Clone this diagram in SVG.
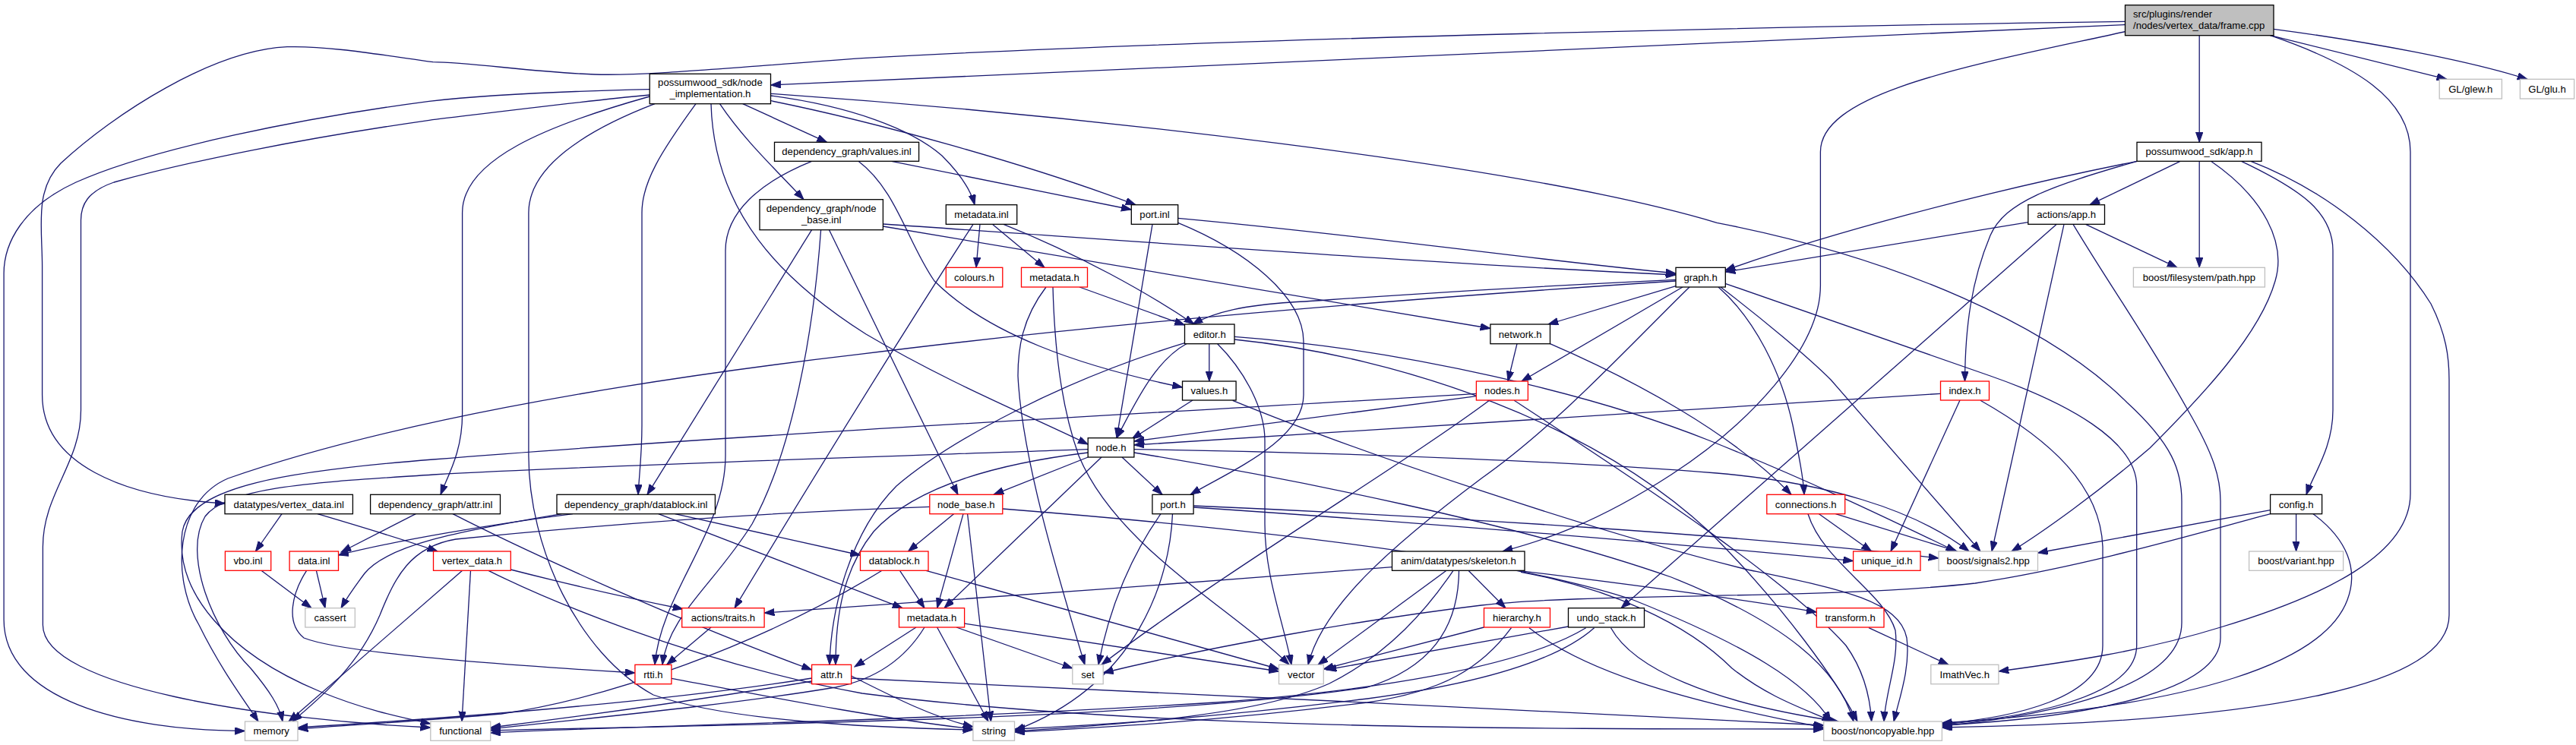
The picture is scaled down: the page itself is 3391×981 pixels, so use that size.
<svg xmlns="http://www.w3.org/2000/svg" width="3391" height="981" viewBox="0 0 3391 981">
<style>
.e{fill:none;stroke:#191970;stroke-width:1.3;marker-end:url(#a)}
.n rect{fill:#ffffff;stroke:#000000;stroke-width:1.3}
.r rect{fill:#ffffff;stroke:#ff0000;stroke-width:1.3}
.g rect{fill:#ffffff;stroke:#bfbfbf;stroke-width:1.3}
.m rect{fill:#bfbfbf;stroke:#000000;stroke-width:1.3}
text{font-family:"Liberation Sans",Arial,Helvetica,sans-serif;font-size:13.1px;fill:#000000;text-anchor:middle}
</style>
<defs>
<marker id="a" markerUnits="userSpaceOnUse" markerWidth="14" markerHeight="10" refX="13.3" refY="4.7" orient="auto">
<path d="M0,0 L13.3,4.7 L0,9.4 Z" fill="#191970" stroke="#191970" stroke-width="1"/>
</marker>
</defs>
<rect x="0" y="0" width="3391" height="981" fill="#ffffff"/>
<g id="edges">
<path class="e" d="M2797.5,32.5 L1014.5,112"/>
<path class="e" d="M2797.5,28.3 C2450,33 1600,50 1135,76.7 C950,90 850,100 783,98 C700,95 620,82 570,81.7 C500,72 430,60 378,61.7 C280,66 150,150 80,215 C45,250 55.6,300 55.6,350 L55.6,520 C55.6,610 160,655 296,663"/>
<path class="e" d="M2895.2,46.7 L2895.2,187.3"/>
<path class="e" d="M2988.6,46.7 L3221,104.3"/>
<path class="e" d="M2993,38.3 C3120,55 3250,80 3327,104.3"/>
<path class="e" d="M2988.6,46.7 C3100,85 3173,130 3173,200 L3173,650 C3173,730 3060,785 2923,826 C2820,858 2720,872 2630.9,884"/>
<path class="e" d="M2797.5,41.7 C2600,85 2396.4,120 2396.4,200 L2396.4,376 C2396.4,460 2300,560 2200,625 C2100,690 2030,712 1978,726"/>
<path class="e" d="M855.2,117.7 C700,121 620,127 565,133.3 C400,155 200,195 100,240 C30,272 5.1,320 5.1,360 L5.1,816 C5.1,920 160,962 322.5,962.5"/>
<path class="e" d="M855.2,125 C750,135 650,148 565,158.3 C400,182 250,212 150,240 C115,252 106.5,270 106.5,290 L106.5,540 C106.5,610 56.4,650 56.4,720 L56.4,823 C56.4,905 350,948 566.8,958"/>
<path class="e" d="M855.2,127 C720,165 608.6,210 608.6,280 L608.6,545 C608.6,595 590,625 580,651.3"/>
<path class="e" d="M862,136.7 C770,172 695.9,220 695.9,280 L695.9,600 C695.9,720 760,860 860,915 C960,950 1150,958 1280.9,961"/>
<path class="e" d="M916,136.7 C870,200 845,240 845,280 L845,560 C845,600 841,630 840,651.3"/>
<path class="e" d="M936,136.7 C940,280 1030,370 1140,440 C1250,505 1350,545 1432.2,585"/>
<path class="e" d="M947.5,136.7 C980,185 1020,222 1058,262.7"/>
<path class="e" d="M977.7,136.7 L1088.6,187.3"/>
<path class="e" d="M1014.5,123.3 C1400,150 2000,215 2260,293.3 C2500,340 2700,430 2800,530 C2860,585 2872,620 2872,660 L2872,820 C2872,905 2700,942 2556.4,956"/>
<path class="e" d="M1014.5,126 C1120,140 1200,170 1240,205 C1265,230 1278,250 1283,269.7"/>
<path class="e" d="M1014.5,132.7 C1150,160 1350,215 1495,269.7"/>
<path class="e" d="M1173.6,212.3 L1489.3,276"/>
<path class="e" d="M1130,212.3 C1180,250 1195,320 1230,370 C1300,440 1420,482 1556.5,510"/>
<path class="e" d="M1068.6,212.3 C1000,240 955,280 955,330 L955,600 C955,700 870,780 862,875.3"/>
<path class="e" d="M1080.6,302.7 C1070,450 1040,600 990,690 C940,770 880,810 872,875.3"/>
<path class="e" d="M1068.6,302.7 L852,651.3"/>
<path class="e" d="M1091.5,302.7 L1261,651.3"/>
<path class="e" d="M1162.4,295 C1500,318 1900,348 2206,362"/>
<path class="e" d="M1162.4,298 L1962,432.5"/>
<path class="e" d="M1290,295.3 L1285,352.3"/>
<path class="e" d="M1306.4,295.3 L1375,352.3"/>
<path class="e" d="M1321,295.3 C1420,335 1510,385 1572,427"/>
<path class="e" d="M1281,295.3 C1220,390 1100,580 967,800.7"/>
<path class="e" d="M2206,370 C1900,390 1500,420 1130,466.7 C800,505 500,560 300,630 C230,660 225,760 262,823 C290,880 320,920 340,950"/>
<path class="e" d="M2206,368.3 C1950,380 1750,395 1700,398 C1640,402 1600,410 1570,427"/>
<path class="e" d="M2206,376.7 L2038,427"/>
<path class="e" d="M2215,378 L2003,502"/>
<path class="e" d="M2224,378 C2150,450 2050,560 1950,630 C1830,720 1740,800 1722,875.3"/>
<path class="e" d="M2262,378 C2310,420 2345,490 2360,560 C2368,600 2374,630 2375,651.3"/>
<path class="e" d="M2265,378 C2320,420 2380,470 2410,500 L2607,726"/>
<path class="e" d="M2271,373.3 L2620,495 C2720,530 2812.7,580 2812.7,640 L2812.7,850 C2812.7,922 2650,946 2556.4,954"/>
<path class="e" d="M2895.2,212.3 L2895.2,352.3"/>
<path class="e" d="M2870,212.3 L2751,269.7"/>
<path class="e" d="M2813,212.3 C2600,255 2400,310 2271,356"/>
<path class="e" d="M2813,212.3 C2700,245 2640,265 2620,310 C2595,370 2587,430 2586.5,502"/>
<path class="e" d="M2910.5,212.3 C2980,260 3010,320 2995,370 C2975,440 2900,520 2830,590 C2760,650 2690,700 2648,726"/>
<path class="e" d="M2950.5,212.3 C3030,250 3071,280 3071,330 L3071,540 C3071,590 3045,625 3036,651.3"/>
<path class="e" d="M2963,212.3 C3060,250 3150,320 3200,400 C3220,440 3224,470 3224,500 L3224,810 C3224,900 3000,950 2556.4,958"/>
<path class="e" d="M2669.8,292.7 L2271,358"/>
<path class="e" d="M2745.5,295.3 L2866,352.3"/>
<path class="e" d="M2707.3,295.3 L2134,800.7"/>
<path class="e" d="M2717,295.3 L2622,726"/>
<path class="e" d="M2729,295.3 C2780,380 2830,450 2880,540 C2915,600 2923,630 2923,660 L2923,840 C2923,910 2750,945 2556.4,955"/>
<path class="e" d="M3022.6,676.7 L3022.6,726"/>
<path class="e" d="M2988.6,671.7 L2682.5,728"/>
<path class="e" d="M2988.6,676.7 C2900,700 2750,745 2600,768 C2400,790 2100,780 1950,797 C1800,815 1600,850 1452.2,886"/>
<path class="e" d="M3045,676.7 C3090,710 3105,750 3090,790 C3060,870 2900,930 2556.4,952"/>
<path class="e" d="M2554.5,518.3 L1492.9,586"/>
<path class="e" d="M2580,527 L2489,726"/>
<path class="e" d="M2607,527.3 C2700,580 2765,640 2768,720 L2768,850 C2768,920 2650,945 2556.4,953"/>
<path class="e" d="M1943.4,521.7 L1492.9,581"/>
<path class="e" d="M1943.4,518.3 C1600,540 1000,570 570,605 C380,620 250,640 240,700 C230,780 300,860 420,910 C480,935 530,945 566.8,953"/>
<path class="e" d="M1960.5,527.3 C1850,610 1600,760 1450,875.3"/>
<path class="e" d="M1993.2,527.3 C2150,630 2350,760 2430,850 C2455,885 2462,920 2463.6,950"/>
<path class="e" d="M1570,527 L1490,578"/>
<path class="e" d="M1622.7,527.3 C1800,600 2100,700 2300,750 C2420,775 2500,790 2510,840 C2515,880 2500,920 2493,950"/>
<path class="e" d="M1432.2,602 L1308,651.3"/>
<path class="e" d="M1477,602 L1530,651.3"/>
<path class="e" d="M1450,602 L1243,800.7"/>
<path class="e" d="M1432.2,591.7 C1200,600 800,612 570,625 C420,635 300,640 270,680 C240,730 280,830 330,880 C355,910 368,930 372,950"/>
<path class="e" d="M1432.2,596 C1300,612 1200,645 1150,700 C1110,750 1100,810 1100,875.3"/>
<path class="e" d="M1492.9,591.7 C1800,596 2100,610 2260,623 C2400,635 2520,670 2592,726"/>
<path class="e" d="M1492.9,596 C1700,630 2000,690 2200,760 C2350,820 2420,880 2440,950"/>
<path class="e" d="M1255.5,676.7 L1195.5,726"/>
<path class="e" d="M1268,676.7 L1233.6,800.7"/>
<path class="e" d="M1273.6,676.7 L1304.5,950"/>
<path class="e" d="M1223.8,667.3 C1000,675 800,690 600,710 C540,720 520,760 500,810 C470,880 420,920 385,950"/>
<path class="e" d="M1319.8,670 C1700,700 2000,740 2150,790 C2300,850 2380,900 2410,950"/>
<path class="e" d="M1528,676.7 C1490,730 1460,800 1446,875.3"/>
<path class="e" d="M1543.5,676.7 C1540,760 1500,900 1335.5,962"/>
<path class="e" d="M1571.1,666 C1900,680 2300,705 2552,735"/>
<path class="e" d="M1571.1,668 C1900,690 2250,720 2439.6,738.6"/>
<path class="e" d="M1184.5,751.3 L1217,800.7"/>
<path class="e" d="M1219,751.3 L1683.5,881"/>
<path class="e" d="M1161,751.3 C1000,850 800,920 660,940 C550,950 450,955 392,960"/>
<path class="e" d="M608.6,751.3 L380,950"/>
<path class="e" d="M619.5,751.3 L608,950"/>
<path class="e" d="M672.3,750 C750,770 840,790 899,802"/>
<path class="e" d="M643,751.3 C700,780 900,870 1135,913 C1500,960 2000,960 2400.7,960"/>
<path class="e" d="M371,676.7 L336.4,726"/>
<path class="e" d="M418,676.7 C480,695 530,710 576,726"/>
<path class="e" d="M547.3,676.7 L449,727"/>
<path class="e" d="M596,676.7 C700,730 900,820 1068.6,882"/>
<path class="e" d="M754,676.7 C650,690 520,712 445.5,731"/>
<path class="e" d="M739.5,676.7 C600,700 510,718 480,755 C465,775 455,790 449,800.7"/>
<path class="e" d="M866.8,676.7 L1188,800.7"/>
<path class="e" d="M888.6,676.7 L1132.5,731"/>
<path class="e" d="M344,751.3 L410,800.7"/>
<path class="e" d="M416.4,751.3 L428,800.7"/>
<path class="e" d="M403.6,751.3 C385,780 375,820 400,840 C450,860 650,875 835.9,886"/>
<path class="e" d="M936,826 L877.7,875.3"/>
<path class="e" d="M883.9,893.3 C1000,915 1150,945 1280.9,960"/>
<path class="e" d="M1068.6,893 C900,920 650,942 392,958"/>
<path class="e" d="M1068.6,897 C900,925 750,945 645.7,958"/>
<path class="e" d="M1120.6,890 C1180,920 1230,945 1280.9,957"/>
<path class="e" d="M1120.6,893 C1500,910 2000,935 2400.7,955"/>
<path class="e" d="M1206,826 L1125,878"/>
<path class="e" d="M1259,826 L1411.8,880"/>
<path class="e" d="M1269.6,821 L1683.5,884"/>
<path class="e" d="M1233.6,826 L1301,950"/>
<path class="e" d="M1217,826 C1190,870 1150,895 1100,905 C950,930 750,948 645.7,960"/>
<path class="e" d="M1832.5,746.7 C1600,765 1200,795 1006.1,807"/>
<path class="e" d="M1904,751.3 L1735,875.3"/>
<path class="e" d="M1913,751.3 C1880,800 1830,860 1750,900 C1650,945 1450,955 1335.5,963"/>
<path class="e" d="M1920.5,751.3 C1920,830 1880,880 1800,905 C1500,950 900,955 645.7,962"/>
<path class="e" d="M1933,751.3 L1982,800.7"/>
<path class="e" d="M1998.6,751.3 C2150,770 2300,790 2391.3,806"/>
<path class="e" d="M2002,753.3 C2120,775 2220,820 2280,880 C2330,920 2380,935 2412,950"/>
<path class="e" d="M1953.5,826 L1742.3,881"/>
<path class="e" d="M1989.5,826.7 C1950,880 1900,910 1800,925 C1600,950 1450,958 1335.5,964"/>
<path class="e" d="M2013,826.7 C2080,880 2200,920 2400.7,958"/>
<path class="e" d="M2064.5,825 L1746,882"/>
<path class="e" d="M2098.6,826.7 C2050,870 1950,900 1800,920 C1600,945 1450,955 1335.5,960"/>
<path class="e" d="M2087.7,826.7 C2000,880 1800,910 1600,925 C1200,950 850,955 645.7,965"/>
<path class="e" d="M2120.5,826.7 C2150,880 2250,925 2420,950"/>
<path class="e" d="M2394.5,676.7 L2463.6,726"/>
<path class="e" d="M2416.4,676.7 L2576.4,726"/>
<path class="e" d="M2380,676.7 C2400,740 2480,780 2495,830 C2500,870 2482,910 2480,950"/>
<path class="e" d="M1997,452.7 L1985,502"/>
<path class="e" d="M2040.5,452.7 C2150,500 2280,570 2358,651.3"/>
<path class="e" d="M1591.8,452.7 L1591.8,502"/>
<path class="e" d="M1563,452 C1520,475 1495,530 1470,576.7"/>
<path class="e" d="M1559.5,451.7 C1400,500 1250,580 1180,640 C1120,700 1094,800 1092,875.3"/>
<path class="e" d="M1602.7,452.7 C1640,490 1665,540 1665,580 L1665,690 C1665,760 1690,820 1700,875.3"/>
<path class="e" d="M1625,443.3 C1850,460 2100,520 2250,580 C2400,640 2520,700 2575,726"/>
<path class="e" d="M1625,447 C1850,470 2100,560 2250,700 C2350,800 2420,900 2445,950"/>
<path class="e" d="M1421,378 L1559.5,428"/>
<path class="e" d="M1377,378 C1345,420 1340,460 1340,495 C1345,600 1390,750 1428,875.3"/>
<path class="e" d="M1386,378 C1388,450 1395,530 1420,600 C1470,720 1620,800 1697,875.3"/>
<path class="e" d="M2460,826.7 L2565,875.3"/>
<path class="e" d="M1550.7,287.3 C1800,310 2000,340 2206,360"/>
<path class="e" d="M1517,295.3 L1470,576.7"/>
<path class="e" d="M1550.7,293.3 C1640,330 1716,390 1716,450 L1716,520 C1716,580 1620,620 1567,651.3"/>
</g>
<g id="n_main" class="m"><rect x="2797.5" y="6.7" width="195.5" height="40"/><text x="2808" y="23" style="text-anchor:start">src/plugins/render</text><text x="2808" y="37.8" style="text-anchor:start">/nodes/vertex_data/frame.cpp</text></g>
<g id="n_node_impl" class="n"><rect x="855.2" y="97.3" width="159.3" height="39.4"/><text x="934.9" y="113.2">possumwood_sdk/node</text><text x="934.9" y="128.2">_implementation.h</text></g>
<g id="n_glew" class="g"><rect x="3211.2" y="104.3" width="82.2" height="25.7"/><text x="3252.3" y="121.8">GL/glew.h</text></g>
<g id="n_glu" class="g"><rect x="3317.4" y="104.3" width="71.2" height="25.7"/><text x="3353" y="121.8">GL/glu.h</text></g>
<g id="n_values_inl" class="n"><rect x="1019.5" y="187.3" width="190.1" height="25"/><text x="1114.5" y="204.4">dependency_graph/values.inl</text></g>
<g id="n_app_h" class="n"><rect x="2813" y="187.3" width="164" height="25"/><text x="2895" y="204.4">possumwood_sdk/app.h</text></g>
<g id="n_node_base_inl" class="n"><rect x="1000" y="262.7" width="162.4" height="40"/><text x="1081.2" y="279">dependency_graph/node</text><text x="1081.2" y="293.6">_base.inl</text></g>
<g id="n_metadata_inl" class="n"><rect x="1245.3" y="269.7" width="93.4" height="25.6"/><text x="1292" y="287.1">metadata.inl</text></g>
<g id="n_port_inl" class="n"><rect x="1489.3" y="269.7" width="61.4" height="25.6"/><text x="1520" y="287.1">port.inl</text></g>
<g id="n_actions_app" class="n"><rect x="2669.8" y="269.7" width="100.7" height="25.6"/><text x="2720.1" y="287.1">actions/app.h</text></g>
<g id="n_colours" class="r"><rect x="1245.3" y="352.3" width="74.5" height="25.7"/><text x="1282.5" y="369.8">colours.h</text></g>
<g id="n_metadata_h1" class="r"><rect x="1344.5" y="352.3" width="87" height="25.7"/><text x="1388" y="369.8">metadata.h</text></g>
<g id="n_graph_h" class="n"><rect x="2206" y="352.3" width="65.3" height="25.7"/><text x="2238.6" y="369.8">graph.h</text></g>
<g id="n_path_hpp" class="g"><rect x="2808.4" y="352.3" width="173" height="25.7"/><text x="2894.9" y="369.8">boost/filesystem/path.hpp</text></g>
<g id="n_editor_h" class="n"><rect x="1559.5" y="427" width="65.5" height="25.7"/><text x="1592.2" y="444.5">editor.h</text></g>
<g id="n_network_h" class="n"><rect x="1961.9" y="427" width="78.6" height="25.7"/><text x="2001.2" y="444.5">network.h</text></g>
<g id="n_values_h" class="n"><rect x="1556.5" y="502" width="70.6" height="25"/><text x="1591.8" y="519.1">values.h</text></g>
<g id="n_nodes_h" class="r"><rect x="1943.4" y="502" width="68" height="25"/><text x="1977.4" y="519.1">nodes.h</text></g>
<g id="n_index_h" class="r"><rect x="2554.5" y="502" width="64" height="25"/><text x="2586.5" y="519.1">index.h</text></g>
<g id="n_node_h" class="n"><rect x="1432.2" y="576.7" width="60.7" height="25.3"/><text x="1462.5" y="594">node.h</text></g>
<g id="n_vertex_data_inl" class="n"><rect x="296" y="651.3" width="168.4" height="25.4"/><text x="380.2" y="668.6">datatypes/vertex_data.inl</text></g>
<g id="n_attr_inl" class="n"><rect x="487.6" y="651.3" width="170.9" height="25.4"/><text x="573" y="668.6">dependency_graph/attr.inl</text></g>
<g id="n_datablock_inl" class="n"><rect x="733" y="651.3" width="208.4" height="25.4"/><text x="837.2" y="668.6">dependency_graph/datablock.inl</text></g>
<g id="n_node_base_h" class="r"><rect x="1223.8" y="651.3" width="96" height="25.4"/><text x="1271.8" y="668.6">node_base.h</text></g>
<g id="n_port_h" class="n"><rect x="1516.9" y="651.3" width="54.2" height="25.4"/><text x="1544" y="668.6">port.h</text></g>
<g id="n_connections_h" class="r"><rect x="2325.8" y="651.3" width="102.9" height="25.4"/><text x="2377.2" y="668.6">connections.h</text></g>
<g id="n_config_h" class="n"><rect x="2988.6" y="651.3" width="68" height="25.4"/><text x="3022.6" y="668.6">config.h</text></g>
<g id="n_vbo_inl" class="r"><rect x="296.4" y="726" width="60.3" height="25.3"/><text x="326.5" y="743.3">vbo.inl</text></g>
<g id="n_data_inl" class="r"><rect x="381.1" y="726" width="64.4" height="25.3"/><text x="413.3" y="743.3">data.inl</text></g>
<g id="n_vertex_data_h" class="r"><rect x="570.5" y="726" width="101.8" height="25.3"/><text x="621.4" y="743.3">vertex_data.h</text></g>
<g id="n_datablock_h" class="r"><rect x="1132.5" y="726" width="89.5" height="25.3"/><text x="1177.2" y="743.3">datablock.h</text></g>
<g id="n_unique_id_h" class="r"><rect x="2439.6" y="726" width="88.4" height="25.3"/><text x="2483.8" y="743.3">unique_id.h</text></g>
<g id="n_signals2" class="g"><rect x="2552" y="726" width="130.5" height="25.3"/><text x="2617.2" y="743.3">boost/signals2.hpp</text></g>
<g id="n_skeleton_h" class="n"><rect x="1832.5" y="726" width="174.5" height="25.3"/><text x="1919.7" y="743.3">anim/datatypes/skeleton.h</text></g>
<g id="n_variant" class="g"><rect x="2960.6" y="726" width="124" height="25.3"/><text x="3022.6" y="743.3">boost/variant.hpp</text></g>
<g id="n_cassert" class="g"><rect x="401.8" y="800.7" width="65.5" height="25.3"/><text x="434.5" y="818">cassert</text></g>
<g id="n_traits_h" class="r"><rect x="897.7" y="800.7" width="108.4" height="25.3"/><text x="951.9" y="818">actions/traits.h</text></g>
<g id="n_metadata_h2" class="r"><rect x="1183.5" y="800.7" width="86.1" height="25.3"/><text x="1226.5" y="818">metadata.h</text></g>
<g id="n_hierarchy_h" class="r"><rect x="1953.5" y="800.7" width="87" height="25.3"/><text x="1997" y="818">hierarchy.h</text></g>
<g id="n_undo_stack_h" class="n"><rect x="2064.5" y="800.7" width="100" height="25.3"/><text x="2114.5" y="818">undo_stack.h</text></g>
<g id="n_transform_h" class="r"><rect x="2391.3" y="800.7" width="88.7" height="25.3"/><text x="2435.6" y="818">transform.h</text></g>
<g id="n_rtti_h" class="r"><rect x="835.9" y="875.3" width="48" height="25.4"/><text x="859.9" y="892.6">rtti.h</text></g>
<g id="n_attr_h" class="r"><rect x="1068.6" y="875.3" width="52" height="25.4"/><text x="1094.6" y="892.6">attr.h</text></g>
<g id="n_set" class="g"><rect x="1411.8" y="875.3" width="40.4" height="25.4"/><text x="1432" y="892.6">set</text></g>
<g id="n_vector" class="g"><rect x="1683.5" y="875.3" width="58.8" height="25.4"/><text x="1712.9" y="892.6">vector</text></g>
<g id="n_imathvec" class="g"><rect x="2541.8" y="875.3" width="89.1" height="25.4"/><text x="2586.3" y="892.6">ImathVec.h</text></g>
<g id="n_memory" class="g"><rect x="322.5" y="950" width="69.5" height="25.3"/><text x="357.2" y="967.3">memory</text></g>
<g id="n_functional" class="g"><rect x="566.8" y="950" width="78.9" height="25.3"/><text x="606.2" y="967.3">functional</text></g>
<g id="n_string" class="g"><rect x="1280.9" y="950" width="54.6" height="25.3"/><text x="1308.2" y="967.3">string</text></g>
<g id="n_noncopyable" class="g"><rect x="2400.7" y="950" width="155.7" height="25.3"/><text x="2478.5" y="967.3">boost/noncopyable.hpp</text></g>
</svg>
